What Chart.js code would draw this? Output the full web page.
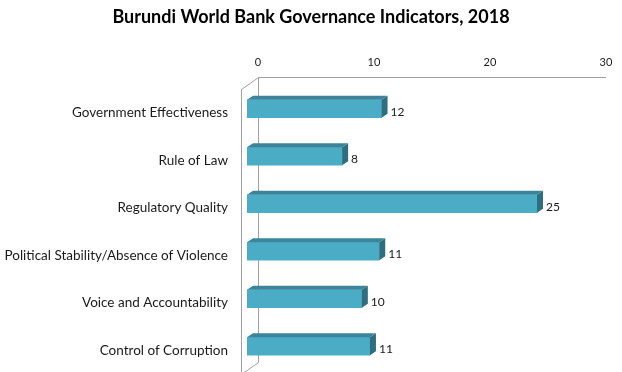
<!DOCTYPE html>
<html>
<head>
<meta charset="utf-8">
<script src="https://cdn.jsdelivr.net/npm/chart.js@4"></script>
<style>
  html, body { margin: 0; padding: 0; background: #ffffff; }
  #wrap { width: 622px; height: 372px; }
</style>
</head>
<body>
<div id="wrap"><canvas id="c" width="622" height="372"></canvas></div>
<script>
const chartTitle = "Burundi World Bank Governance Indicators, 2018";
const categories = [
  "Government Effectiveness",
  "Rule of Law",
  "Regulatory Quality",
  "Political Stability/Absence of Violence",
  "Voice and Accountability",
  "Control of Corruption"
];
const values = [11.6, 8.2, 25.0, 11.4, 9.9, 10.6];
const axisMin = 0;
const axisMax = 30;
const axisStep = 10;

const FONT = "Lato, 'Open Sans', sans-serif";
const FRONT = "#4bacc6";
const TOP = "#3b8499";
const SIDE = "#2f6e80";
const FRAME = "#a0a0a0";
const BACK = { dx: 11, dy: -8 };
const FRONTPLANE = { dx: -6, dy: 4 };
const BAR_DEPTH = { dx: 6, dy: -4 };

const frame3d = {
  id: "frame3d",
  beforeDatasetsDraw(chart) {
    const { ctx } = chart;
    const x = chart.scales.x, y = chart.scales.y;
    const x0 = x.getPixelForValue(axisMin);
    const x1 = x.getPixelForValue(axisMax);
    const top = y.top, bottom = y.bottom;
    ctx.save();
    ctx.strokeStyle = FRAME;
    ctx.lineWidth = 1;
    const bx = Math.round(x0 + BACK.dx) + 0.5;
    const by = Math.round(top + BACK.dy) + 0.5;
    const bby = Math.round(bottom + BACK.dy) + 0.5;
    const fx = Math.round(x0 + FRONTPLANE.dx) + 0.5;
    const fy = Math.round(top + FRONTPLANE.dy) + 0.5;
    const fby = Math.round(bottom + FRONTPLANE.dy) + 0.5;
    ctx.beginPath();
    ctx.moveTo(Math.round(x1 + BACK.dx), by);
    ctx.lineTo(bx, by);
    ctx.lineTo(bx, bby);
    ctx.lineTo(fx, fby);
    ctx.lineTo(fx, fy);
    ctx.lineTo(bx, by);
    ctx.stroke();
    ctx.restore();
  },
  afterDatasetsDraw(chart) {
    const { ctx } = chart;
    const meta = chart.getDatasetMeta(0);
    ctx.save();
    meta.data.forEach((bar, i) => {
      const p = bar.getProps(["x", "y", "base", "height"], true);
      const t = p.y - p.height / 2, b = p.y + p.height / 2;
      const l = p.base, r = p.x;
      ctx.fillStyle = TOP;
      ctx.beginPath();
      ctx.moveTo(l, t);
      ctx.lineTo(r, t);
      ctx.lineTo(r + BAR_DEPTH.dx, t + BAR_DEPTH.dy);
      ctx.lineTo(l + BAR_DEPTH.dx, t + BAR_DEPTH.dy);
      ctx.closePath();
      ctx.fill();
      ctx.fillStyle = SIDE;
      ctx.beginPath();
      ctx.moveTo(r, t);
      ctx.lineTo(r + BAR_DEPTH.dx, t + BAR_DEPTH.dy);
      ctx.lineTo(r + BAR_DEPTH.dx, b + BAR_DEPTH.dy);
      ctx.lineTo(r, b);
      ctx.closePath();
      ctx.fill();
      ctx.fillStyle = "#1a1a1a";
      ctx.font = "12px " + FONT;
      ctx.textAlign = "left";
      ctx.textBaseline = "middle";
      ctx.fillText(String(Math.round(values[i])), r + BAR_DEPTH.dx + 3, p.y + 3);
    });
    ctx.restore();
  }
};

new Chart(document.getElementById("c"), {
  type: "bar",
  data: {
    labels: categories,
    datasets: [{
      data: values,
      backgroundColor: FRONT,
      borderWidth: 0,
      barThickness: 18
    }]
  },
  options: {
    indexAxis: "y",
    responsive: false,
    animation: false,
    devicePixelRatio: 1,
    layout: { padding: { left: 0, right: 0, top: 0, bottom: 2 } },
    plugins: {
      legend: { display: false },
      tooltip: { enabled: false },
      title: {
        display: true,
        text: chartTitle,
        color: "#000000",
        font: { family: FONT, size: 18, weight: "bold", lineHeight: 1.2 },
        padding: { top: 6, bottom: 0 }
      }
    },
    scales: {
      x: {
        position: "top",
        min: axisMin,
        max: axisMax,
        grid: { display: false, drawTicks: false },
        border: { display: false },
        ticks: {
          stepSize: axisStep,
          labelOffset: BACK.dx,
          padding: 16,
          color: "#1a1a1a",
          font: { family: FONT, size: 11 }
        },
        afterFit(s) { s.height = 85 - 27.6; }
      },
      y: {
        grid: { display: false, drawTicks: false },
        border: { display: false },
        ticks: {
          labelOffset: 4,
          padding: 19,
          color: "#1a1a1a",
          font: { family: FONT, size: 13.5 }
        },
        afterFit(s) { s.width = 247; s.paddingTop = 0; s.paddingBottom = 0; }
      },
      yPad: {
        position: "right",
        grid: { display: false, drawTicks: false },
        border: { display: false },
        ticks: { display: false },
        afterFit(s) { s.width = 27; s.paddingTop = 0; s.paddingBottom = 0; }
      }
    }
  },
  plugins: [frame3d]
});
</script>
</body>
</html>
